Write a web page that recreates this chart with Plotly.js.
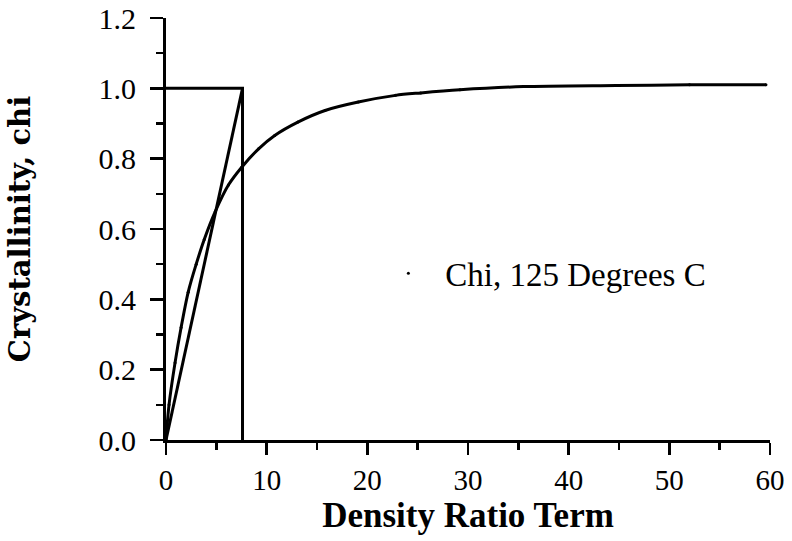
<!DOCTYPE html>
<html>
<head>
<meta charset="utf-8">
<script src="https://cdn.plot.ly/plotly-3.0.1.min.js"></script>
<style>html,body{margin:0;padding:0;background:#fff;}#chart{width:792px;height:541px;}</style>
</head>
<body>
<div id="chart"></div>
<script>
// Step (box) outline
const stepX = [0, 7.6, 7.6];
const stepY = [1.0, 1.0, 0.0];
// Straight diagonal line
const diagX = [0, 7.6];
const diagY = [0, 1.0];
// Chi curve, 125 Degrees C
const curveX = [0, 0.3, 0.9, 1.5, 2.2, 3.0, 3.8, 4.9, 6.2, 7.5, 9.2, 10.8, 13.1, 15.8, 19.1, 22.8, 25.3, 29.2, 35.5, 44.7, 52, 59.6];
const curveY = [0, 0.10, 0.22, 0.32, 0.42, 0.50, 0.57, 0.65, 0.725, 0.775, 0.828, 0.866, 0.904, 0.937, 0.961, 0.98, 0.987, 0.996, 1.005, 1.008, 1.01, 1.01];
const seriesName = 'Chi, 125 Degrees C';
const xTitle = 'Density Ratio Term';
const yTitle = 'Crystallinity, chi';

const black = '#000';
const traces = [
  {x: stepX, y: stepY, mode: 'lines', line: {color: black, width: 3}, showlegend: false, hoverinfo: 'skip'},
  {x: diagX, y: diagY, mode: 'lines', line: {color: black, width: 3}, showlegend: false, hoverinfo: 'skip'},
  {x: curveX, y: curveY, mode: 'lines', line: {color: black, width: 3, shape: 'spline', smoothing: 0.8}, showlegend: false, hoverinfo: 'skip'},
  {x: curveX, y: curveY, mode: 'markers', name: seriesName, marker: {color: black, size: 3}, showlegend: true}
];

const layout = {
  width: 792, height: 541,
  margin: {l: 166, r: 22, t: 18, b: 101},
  paper_bgcolor: '#fff', plot_bgcolor: '#fff',
  font: {family: '"Liberation Serif", "Times New Roman", serif', color: black},
  showlegend: true,
  legend: {x: 0.34, y: 0.395, xanchor: 'left', yanchor: 'middle', bgcolor: 'rgba(0,0,0,0)', itemwidth: 64,
           font: {size: 33, family: '"Liberation Serif", serif', color: black}},
  xaxis: {
    range: [0, 60], dtick: 10, tick0: 0,
    showgrid: false, zeroline: false,
    showline: true, linecolor: black, linewidth: 3,
    ticks: 'outside', ticklen: 12, tickwidth: 2.5, tickcolor: black,
    minor: {dtick: 5, ticks: 'outside', ticklen: 7, tickwidth: 2.5, tickcolor: black, showgrid: false},
    tickfont: {size: 29, family: '"Liberation Serif", serif', color: black},
    title: {text: '<b>' + xTitle + '</b>', font: {size: 35, family: '"Liberation Serif", serif', color: black}, standoff: 6}
  },
  yaxis: {
    range: [0, 1.2], dtick: 0.2, tick0: 0, tickformat: '.1f',
    showgrid: false, zeroline: false,
    showline: true, linecolor: black, linewidth: 3,
    ticks: 'outside', ticklen: 13, tickwidth: 2.5, tickcolor: black,
    ticklabelstandoff: 8,
    minor: {dtick: 0.1, ticks: 'outside', ticklen: 7, tickwidth: 2.5, tickcolor: black, showgrid: false},
    tickfont: {size: 30, family: '"Liberation Serif", serif', color: black},
    title: {text: '<b>' + yTitle + '</b>', font: {size: 29, family: '"DejaVu Serif", serif', color: black}, standoff: 60}
  }
};

Plotly.newPlot('chart', traces, layout, {staticPlot: true, displayModeBar: false});
</script>
</body>
</html>
